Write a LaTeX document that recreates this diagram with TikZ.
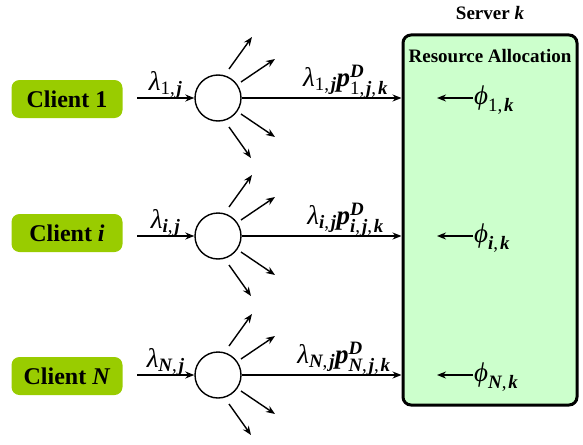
\documentclass[tikz,border=0pt]{standalone}
\usepackage{fix-cm}
\usepackage{amsmath}
\usepackage{fontspec}
\setmainfont{Liberation Serif}
\usetikzlibrary{arrows.meta,calc}
\definecolor{clientgreen}{RGB}{153,204,0}
\definecolor{serverfill}{RGB}{204,255,204}
\newcommand{\bi}[1]{\text{\bfseries\itshape #1}}
\newcommand{\tx}[1]{\text{\itshape #1}}
\newcommand{\rg}[1]{\text{#1}}
\newcommand{\cm}{\text{,\kern0.1em}}
\tikzset{
  client/.style={fill=clientgreen,rounded corners=8pt,minimum width=111pt,minimum height=38pt,inner sep=0pt,font=\fontsize{24}{27}\selectfont\bfseries},
  splitter/.style={circle,draw,line width=1.4pt,minimum size=46pt,inner sep=0pt},
  flow/.style={line width=1.4pt,-{Stealth[length=9pt,width=7pt]}},
  lbl/.style={font=\fontsize{27}{31}\selectfont,inner sep=1pt},
  title/.style={font=\fontsize{19}{22}\selectfont\bfseries,inner sep=0pt}
}
\begin{document}
\begin{tikzpicture}[x=1pt,y=-1pt]
\useasboundingbox (0,0) rectangle (583,444);
% server
\node[draw,line width=3pt,fill=serverfill,rounded corners=8pt,minimum width=174pt,minimum height=370pt,inner sep=0pt] (server) at (490,220) {};
\node[title] (srvtitle) at (490,13) {Server \textit{k}};
\node[title] (ra) at (490,56) {Resource Allocation};
% clients
\node[client] (c1) at (67,99) {Client 1};
\node[client] (c2) at (67,233) {Client \textit{i}};
\node[client] (c3) at (67,376) {Client \textit{N}};
% splitters
\node[splitter] (s1) at (218,98) {};
\node[splitter] (s2) at (218,236) {};
\node[splitter] (s3) at (218,375) {};
% input start points
\coordinate (i1) at (137,98);
\coordinate (i2) at (137,236);
\coordinate (i3) at (137,375);
\draw[flow] (i1) -- (s1.west) node[lbl,midway,above,yshift=-2pt] (l1) {$\tx{λ}_{\rg{1}\cm\bi{j}}$};
\draw[flow] (i2) -- (s2.west) node[lbl,midway,above,yshift=-2pt] (l2) {$\tx{λ}_{\bi{i}\cm\bi{j}}$};
\draw[flow] (i3) -- (s3.west) node[lbl,midway,above,yshift=-2pt] (l3) {$\tx{λ}_{\bi{N}\cm\bi{j}}$};
% main flows
\draw[flow] (s1.east) -- (s1.east -| server.west) node[lbl,pos=0.65,above,yshift=-2pt] (m1) {$\tx{λ}_{\rg{1}\cm\bi{j}}\bi{p}^{\bi{D}}_{\rg{1}\cm\bi{j}\cm\bi{k}}$};
\draw[flow] (s2.east) -- (s2.east -| server.west) node[lbl,pos=0.65,above,yshift=-2pt] (m2) {$\tx{λ}_{\bi{i}\cm\bi{j}}\bi{p}^{\bi{D}}_{\bi{i}\cm\bi{j}\cm\bi{k}}$};
\draw[flow] (s3.east) -- (s3.east -| server.west) node[lbl,pos=0.64,above,yshift=-2pt] (m3) {$\tx{λ}_{\bi{N}\cm\bi{j}}\bi{p}^{\bi{D}}_{\bi{N}\cm\bi{j}\cm\bi{k}}$};
% fan-out arrows
\foreach \s in {s1,s2,s3}{
  \draw[flow] ($(\s)+(11,-29)$) -- ($(\s)+(34,-61)$);
  \draw[flow] ($(\s)+(23,-16)$) -- ($(\s)+(57,-39)$);
  \draw[flow] ($(\s)+(23,16)$) -- ($(\s)+(57,39)$);
  \draw[flow] ($(\s)+(11,29)$) -- ($(\s)+(33,60)$);
}
% phi arrows
\coordinate (p1) at (473,98);
\coordinate (p2) at (473,236);
\coordinate (p3) at (473,375);
\coordinate (q1) at (437,98);
\coordinate (q2) at (437,236);
\coordinate (q3) at (437,375);
\draw[flow] (p1) -- (q1);
\draw[flow] (p2) -- (q2);
\draw[flow] (p3) -- (q3);
\node[lbl,anchor=west] (f1) at ($(p1)+(0,2)$) {$\tx{ϕ}_{\rg{1}\cm\bi{k}}$};
\node[lbl,anchor=west] (f2) at ($(p2)+(0,2)$) {$\tx{ϕ}_{\bi{i}\cm\bi{k}}$};
\node[lbl,anchor=west] (f3) at ($(p3)+(0,2)$) {$\tx{ϕ}_{\bi{N}\cm\bi{k}}$};
\end{tikzpicture}
\end{document}
